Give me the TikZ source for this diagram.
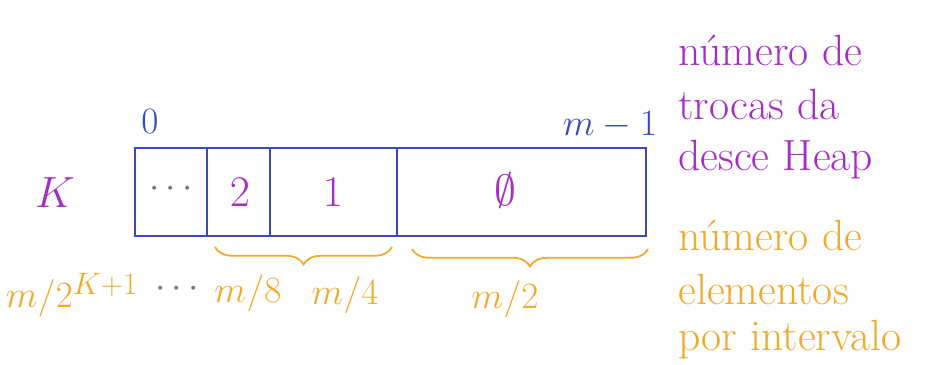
\documentclass[tikz,border=0pt]{standalone}
\usepackage{xcolor}
\usetikzlibrary{math}
\usetikzlibrary{decorations.pathreplacing}
\definecolor{myblue}{RGB}{55,75,185}
\definecolor{mypurple}{RGB}{165,45,195}
\definecolor{myorange}{RGB}{240,170,45}
\definecolor{mygray}{RGB}{120,120,120}

\begin{document}
\begin{tikzpicture}[x=0.02cm, y=0.02cm,
  every node/.style={font=\Huge},
  small/.style={scale=0.85},
  idx/.style={text=myblue, small},
  lvl/.style={text=mypurple},
  cnt/.style={text=myorange},
  note/.style={anchor=west, inner sep=0pt}]
\tikzmath{
\xa=135; \xb=207; \xc=270; \xd=397; \xe=646;
\yt=217; \yb=129; \ym=173;
}
\useasboundingbox (0,0) rectangle (937,365);

% vetor
\draw[myblue, line width=1.2] (\xa,\yb) rectangle (\xe,\yt);
\foreach \x in {\xb,\xc,\xd}
  \draw[myblue, line width=1.2] (\x,\yb) -- (\x,\yt);

\node[idx] (first) at (150,243) {$0$};
\node[idx] (last) at (610,240) {$m-1$};
\node[lvl] (k) at (55,172) {$K$};
\node[text=mygray, small] (dots) at (171,176) {$\cdots$};
\node[lvl] (two) at (240,173) {$2$};
\node[lvl] (one) at (333,173) {$1$};
\node[lvl] (zero) at (505,175) {$\emptyset$};

% chaves
\draw[myorange, line width=1, decorate, decoration={brace, mirror, amplitude=10}] (215,118) -- (392,118);
\draw[myorange, line width=1, decorate, decoration={brace, mirror, amplitude=10}] (412,116) -- (648,116);

\node[cnt, small] (mk) at (72,70) {$m/2^{K+1}$};
\node[text=mygray, small] (mdots) at (177,76) {$\cdots$};
\node[cnt, small] (m8) at (248,72) {$m/8$};
\node[cnt, small] (m4) at (345,70) {$m/4$};
\node[cnt, small] (m2) at (505,66) {$m/2$};

% legendas
\node[lvl, note] (t1) at (678,315) {número de};
\node[lvl, note] (t2) at (678,260) {trocas da};
\node[lvl, note] (t3) at (678,205) {desce Heap};
\node[cnt, note] (e1) at (678,130) {número de};
\node[cnt, note] (e2) at (678,75) {elementos};
\node[cnt, note] (e3) at (678,25) {por intervalo};
\end{tikzpicture}
\end{document}
